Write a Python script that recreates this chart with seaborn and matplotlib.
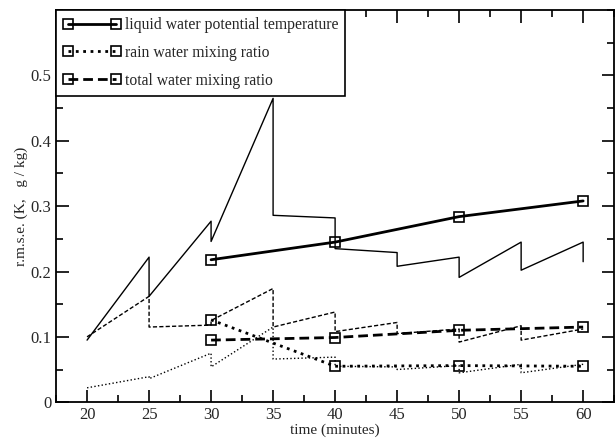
import numpy as np
import pandas as pd
import matplotlib
matplotlib.use("Agg")
import matplotlib.pyplot as plt
import seaborn as sns
from matplotlib.ticker import MultipleLocator

# thin sawtooth curves (each 10-minute forecast window)
theta_x = [20, 25, 25, 30, 30, 35, 35, 40, 40, 45, 45, 50, 50, 55, 55, 60, 60]
theta_y = [0.095, 0.222, 0.162, 0.277, 0.246, 0.465, 0.286, 0.282, 0.235, 0.229, 0.208,
           0.222, 0.191, 0.245, 0.202, 0.245, 0.215]

qt_x = [20, 25, 25, 30, 30, 35, 35, 40, 40, 45, 45, 50, 50, 55, 55, 60]
qt_y = [0.100, 0.162, 0.115, 0.118, 0.125, 0.174, 0.115, 0.138, 0.108, 0.122, 0.105,
        0.112, 0.092, 0.117, 0.095, 0.112]

qr_x = [20, 25, 25, 30, 30, 35, 35, 40, 40, 45, 45, 50, 50, 55, 55, 60]
qr_y = [0.022, 0.039, 0.036, 0.075, 0.054, 0.115, 0.066, 0.069, 0.055, 0.054, 0.050,
        0.056, 0.045, 0.058, 0.045, 0.058]

# thick curves with squares
times = [30, 40, 50, 60]
theta_sq = [0.218, 0.245, 0.284, 0.308]
qr_sq = [0.126, 0.055, 0.056, 0.055]
qt_sq = [0.095, 0.099, 0.110, 0.115]

labels = ["liquid water potential temperature", "rain water mixing ratio", "total water mixing ratio"]

sns.set_theme(style="ticks")
plt.rcParams['font.family'] = ['Liberation Serif', 'DejaVu Serif']

fig = plt.figure(figsize=(6.16, 4.41), dpi=100)
ax = fig.add_axes([0.091, 0.088, 0.906, 0.889])

thin = dict(color='black', lw=1.0, sort=False, estimator=None, legend=False, ax=ax)
sns.lineplot(x=theta_x, y=theta_y, linestyle='-', **thin)
sns.lineplot(x=qr_x, y=qr_y, linestyle=':', **thin)
sns.lineplot(x=qt_x, y=qt_y, **thin)
ax.lines[-1].set_dashes((3, 1.6))

thick = dict(color='black', lw=2.0, sort=False, estimator=None, ax=ax,
             marker='s', markersize=7.5, markerfacecolor='none', markeredgecolor='black',
             markeredgewidth=1.2)
sns.lineplot(x=times, y=theta_sq, linestyle='-', label=labels[0], **thick)
sns.lineplot(x=times, y=qr_sq, linestyle=':', label=labels[1], **thick)
sns.lineplot(x=times, y=qt_sq, label=labels[2], **thick)
ax.lines[-1].set_dashes((3.5, 1.8))

ax.set_xlim(17.5, 62.5)
ax.set_ylim(0, 0.6)
ax.set_xticks([20, 25, 30, 35, 40, 45, 50, 55, 60])
ax.set_yticks([0, 0.1, 0.2, 0.3, 0.4, 0.5])
ax.set_yticklabels(["0", "0.1", "0.2", "0.3", "0.4", "0.5"])
ax.xaxis.set_minor_locator(MultipleLocator(2.5))
ax.yaxis.set_minor_locator(MultipleLocator(0.05))
ax.tick_params(which='both', direction='in', top=True, right=True, labelsize=12, color='black')
ax.tick_params(which='major', length=9, width=1.2)
ax.tick_params(which='minor', length=5, width=1.2)
for s in ax.spines.values():
    s.set_linewidth(1.3)
    s.set_color('black')

ax.set_xlabel("time (minutes)", fontsize=11, labelpad=0)
ax.set_ylabel("r.m.s.e. (K,   g / kg)", fontsize=11, labelpad=2)

leg = ax.legend(loc='upper left', numpoints=2, fancybox=False, framealpha=1,
                edgecolor='black', fontsize=11.3, borderaxespad=0, handlelength=3.65,
                markerscale=0.9, handletextpad=0.27, labelspacing=0.75, borderpad=0.45)
leg.get_frame().set_linewidth(1.2)

fig.savefig("out.png", dpi=100)
